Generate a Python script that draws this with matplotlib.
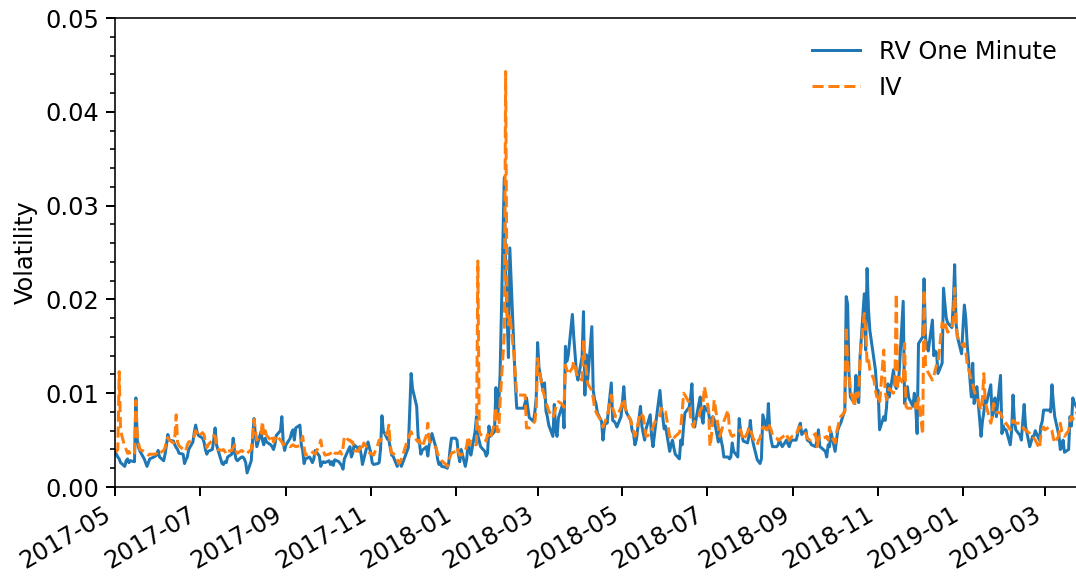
import numpy as np
import pandas as pd
import matplotlib
matplotlib.use('Agg')
import matplotlib.pyplot as plt
import matplotlib.dates as mdates
from matplotlib.ticker import AutoMinorLocator

# one value per weekday
start_date = '2017-05-01'
end_date = '2019-03-25'

# volatility values in units of 1e-3, one block per month
rv_one_minute = [
    # 2017-05
    3.7, 3.5, 3.2, 3.0, 2.6, 2.2, 2.8, 3.0, 2.6, 2.8, 2.7, 9.5, 5.0, 4.2, 3.8, 3.0, 2.6, 2.2, 2.6, 3.0, 3.2, 3.3, 3.4,
    # 2017-06
    3.9, 3.2, 2.8, 3.5, 4.5, 5.6, 5.0, 4.9, 4.5, 4.2, 4.0, 3.6, 3.5, 2.5, 2.9, 3.2, 4.0, 4.8, 5.8, 6.6, 5.9, 5.5,
    # 2017-07
    5.2, 4.8, 4.0, 3.5, 3.8, 4.0, 5.0, 6.3, 4.5, 4.0, 2.5, 2.4, 2.7, 2.6, 3.2, 3.5, 5.2, 3.8, 3.0, 2.8, 3.2,
    # 2017-08
    3.2, 3.0, 2.6, 1.5, 2.8, 5.0, 7.3, 5.5, 4.3, 5.9, 5.0, 4.5, 5.2, 4.8, 4.5, 4.3, 4.0, 4.5, 5.5, 6.0, 7.5, 4.8, 3.9,
    # 2017-09
    4.5, 5.2, 5.8, 6.1, 5.0, 6.3, 6.6, 4.5, 3.9, 2.5, 3.0, 3.2, 2.9, 2.6, 3.0, 3.9, 3.3, 2.2, 2.6, 2.7, 2.6,
    # 2017-10
    2.8, 2.4, 2.7, 2.3, 2.9, 2.7, 2.5, 2.3, 1.9, 3.0, 4.0, 4.3, 3.2, 3.6, 4.5, 4.1, 4.3, 3.5, 2.4, 3.0, 4.8, 4.2,
    # 2017-11
    3.6, 2.6, 2.4, 2.5, 2.6, 4.0, 7.6, 6.0, 5.1, 5.0, 4.2, 3.4, 3.3, 2.2, 2.6, 2.7, 2.2, 2.6, 3.8, 4.2, 8.0, 12.1,
    # 2017-12
    10.5, 8.6, 5.5, 4.7, 3.5, 3.9, 4.3, 3.3, 4.5, 5.0, 5.7, 4.1, 3.0, 2.4, 2.6, 2.2, 2.1, 2.0, 2.5, 4.0, 5.2,
    # 2018-01
    5.2, 5.0, 3.5, 2.7, 4.0, 2.2, 3.0, 4.7, 4.0, 3.4, 5.9, 7.5, 5.5, 4.9, 4.3, 3.8, 3.3, 3.6, 6.5, 5.4, 5.9, 10.6, 7.4,
    # 2018-02
    8.8, 12.0, 33.0, 23.0, 18.7, 13.8, 25.5, 14.5, 10.9, 8.4, 8.4, 8.4, 8.4, 9.0, 9.5, 8.4, 7.4, 7.0, 8.0, 9.5,
    # 2018-03
    15.4, 12.7, 10.2, 11.1, 8.1, 7.5, 6.6, 5.4, 8.8, 6.0, 5.4, 7.4, 8.8, 6.3, 15.0, 13.4, 14.0, 18.4, 16.0, 14.0, 12.1, 11.4,
    # 2018-04
    13.9, 18.7, 9.8, 14.1, 11.4, 17.1, 10.3, 9.3, 8.9, 7.9, 7.0, 5.0, 6.4, 7.1, 6.8, 11.1, 7.1, 7.0, 6.8, 6.4, 7.5,
    # 2018-05
    9.0, 10.7, 8.5, 7.9, 7.1, 6.0, 5.7, 4.5, 5.0, 8.6, 6.5, 5.7, 5.0, 6.2, 7.7, 5.4, 4.3, 5.5, 6.8, 10.3, 8.5, 7.5, 6.2,
    # 2018-06
    6.5, 3.8, 4.5, 5.0, 4.2, 3.5, 3.0, 5.0, 4.5, 6.5, 7.9, 8.5, 9.5, 11.0, 7.0, 6.4, 8.9, 9.6, 7.5, 6.8, 8.6,
    # 2018-07
    7.9, 7.0, 6.8, 7.5, 7.2, 4.8, 6.1, 5.0, 4.3, 3.2, 3.2, 3.0, 3.2, 4.7, 3.8, 3.2, 7.3, 6.0, 5.4, 4.9, 4.7, 5.4,
    # 2018-08
    7.1, 5.5, 4.7, 2.9, 2.7, 2.5, 3.0, 7.7, 6.1, 8.9, 6.1, 5.0, 4.3, 4.3, 4.5, 5.0, 4.6, 4.3, 5.0, 4.6, 4.3, 4.8, 5.0,
    # 2018-09
    5.0, 5.6, 6.4, 6.8, 5.6, 6.1, 5.0, 4.9, 4.8, 4.5, 4.3, 5.0, 6.1, 4.3, 4.2, 3.8, 3.2, 4.5, 4.3, 5.9,
    # 2018-10
    3.8, 5.0, 6.1, 6.5, 6.8, 8.2, 20.3, 19.5, 12.1, 9.6, 8.9, 11.9, 9.6, 9.0, 14.0, 20.6, 14.6, 23.3, 19.0, 16.7, 13.5, 12.5, 10.3,
    # 2018-11
    10.3, 6.1, 7.5, 7.1, 8.5, 11.0, 9.6, 12.5, 11.0, 10.5, 11.0, 12.0, 19.8, 8.9, 10.0, 10.7, 9.5, 8.6, 10.0, 8.6, 5.7, 15.3,
    # 2018-12
    16.0, 22.2, 16.0, 15.0, 14.5, 17.8, 14.0, 14.5, 14.3, 12.1, 13.2, 21.2, 19.5, 18.0, 17.5, 17.0, 19.5, 23.7, 17.5, 16.0, 14.2,
    # 2019-01
    17.0, 19.4, 18.0, 15.3, 9.6, 13.2, 8.9, 10.0, 10.7, 5.4, 7.0, 8.0, 9.5, 9.0, 10.9, 7.5, 8.2, 9.5, 7.5, 11.9, 5.7, 6.5, 6.1,
    # 2019-02
    6.1, 4.5, 6.0, 9.8, 7.0, 6.1, 5.5, 5.0, 7.0, 8.8, 6.5, 4.3, 4.8, 5.4, 5.4, 6.0, 5.0, 6.5, 7.0, 8.2,
    # 2019-03
    8.2, 8.2, 8.0, 10.9, 9.0, 7.5, 5.5, 4.0, 4.2, 5.0, 3.7, 4.0, 7.5, 6.5, 9.5, 9.0, 8.2,
]

iv = [
    # 2017-05
    3.9, 3.8, 4.0, 12.3, 6.0, 4.3, 4.0, 3.6, 3.8, 3.4, 3.6, 9.2, 5.5, 4.6, 4.0, 3.8, 3.6, 3.5, 3.4, 3.5, 3.5, 3.5, 3.6,
    # 2017-06
    3.8, 3.6, 3.9, 4.2, 5.0, 5.3, 5.0, 4.7, 5.2, 7.7, 4.8, 4.4, 4.0, 3.8, 3.9, 4.5, 4.8, 5.0, 5.5, 6.0, 5.8, 5.4,
    # 2017-07
    5.8, 5.6, 4.8, 4.2, 4.5, 5.0, 5.5, 5.4, 4.3, 4.0, 3.9, 4.0, 3.8, 3.5, 3.8, 3.9, 4.2, 4.5, 3.8, 3.6, 3.9,
    # 2017-08
    3.8, 3.6, 3.5, 3.6, 4.0, 5.5, 7.2, 6.0, 5.0, 5.5, 7.0, 5.5, 6.0, 5.5, 5.0, 5.4, 4.8, 5.0, 5.5, 5.0, 4.8, 4.5, 4.6,
    # 2017-09
    4.6, 4.3, 4.4, 4.5, 4.4, 4.3, 4.4, 4.8, 5.4, 4.2, 3.4, 3.6, 3.8, 3.7, 3.6, 3.5, 4.5, 5.0, 4.1, 3.8, 3.4,
    # 2017-10
    3.5, 3.6, 3.4, 3.7, 3.6, 3.6, 3.8, 3.5, 4.2, 5.4, 5.0, 5.0, 4.8, 4.8, 3.9, 3.8, 4.2, 3.8, 4.3, 4.7, 4.0, 3.6,
    # 2017-11
    3.6, 3.5, 3.4, 4.5, 5.0, 4.9, 5.2, 5.3, 5.8, 6.6, 4.4, 3.6, 3.6, 3.0, 2.5, 2.6, 3.0, 3.4, 4.8, 5.0, 5.6, 5.9,
    # 2017-12
    5.5, 5.0, 4.8, 5.0, 4.5, 4.3, 5.5, 6.8, 5.0, 4.7, 4.4, 4.2, 3.6, 3.2, 3.0, 2.8, 2.4, 2.2, 2.6, 3.2, 3.6,
    # 2018-01
    3.8, 4.2, 3.7, 3.4, 3.4, 3.8, 4.4, 5.4, 4.5, 4.9, 4.5, 4.5, 24.1, 6.0, 5.6, 5.2, 4.9, 5.6, 5.2, 5.2, 6.8, 8.5, 5.9,
    # 2018-02
    5.9, 9.1, 16.2, 44.3, 18.7, 17.3, 18.4, 14.1, 12.0, 9.8, 9.8, 9.8, 9.8, 9.8, 6.3, 6.3, 6.3, 6.8, 7.0, 8.4,
    # 2018-03
    13.7, 12.5, 10.2, 9.6, 9.1, 8.6, 8.1, 7.4, 7.8, 8.4, 8.8, 9.1, 8.8, 8.5, 13.0, 12.5, 12.0, 12.7, 13.4, 12.8, 12.1, 11.6,
    # 2018-04
    11.4, 15.5, 13.5, 12.5, 11.0, 10.3, 9.5, 8.4, 8.0, 7.7, 7.0, 6.4, 6.8, 7.1, 7.5, 9.8, 8.4, 8.0, 7.5, 7.5, 8.5,
    # 2018-05
    9.0, 9.4, 8.5, 7.9, 7.1, 6.5, 6.0, 5.4, 6.0, 7.9, 7.7, 7.5, 6.5, 5.4, 5.6, 6.0, 6.4, 6.8, 7.1, 7.6, 8.4, 8.2, 7.9,
    # 2018-06
    8.0, 5.4, 5.2, 5.0, 5.2, 5.4, 5.8, 6.4, 8.0, 10.0, 9.8, 9.0, 7.5, 6.8, 6.4, 7.0, 7.5, 8.2, 8.4, 9.0, 10.7,
    # 2018-07
    8.2, 4.3, 5.4, 7.0, 9.3, 6.4, 5.4, 5.8, 6.4, 7.0, 8.2, 6.1, 5.6, 5.4, 5.5, 5.7, 5.9, 6.1, 5.5, 5.0, 5.8, 6.4,
    # 2018-08
    6.2, 5.7, 5.2, 4.5, 5.0, 5.2, 5.8, 6.4, 6.1, 6.8, 6.4, 6.1, 5.5, 5.2, 5.0, 5.0, 5.2, 5.3, 5.7, 5.2, 5.0, 5.2, 5.4,
    # 2018-09
    5.5, 6.0, 6.4, 6.4, 6.0, 5.7, 5.2, 5.1, 5.0, 5.3, 5.7, 4.3, 5.0, 5.4, 5.2, 5.3, 5.4, 5.0, 6.4, 5.5,
    # 2018-10
    4.7, 5.8, 6.4, 7.1, 7.5, 8.0, 17.1, 13.2, 12.1, 10.3, 8.6, 10.3, 9.6, 9.8, 14.0, 18.5, 16.7, 13.2, 13.6, 12.5, 11.4, 10.3, 9.6,
    # 2018-11
    9.6, 8.9, 14.6, 10.3, 9.3, 10.0, 10.5, 10.0, 11.0, 20.6, 10.7, 11.7, 11.0, 15.3, 8.6, 8.4, 8.4, 8.4, 8.2, 8.9, 8.2, 9.5,
    # 2018-12
    5.6, 21.0, 13.1, 12.5, 12.2, 11.4, 11.8, 12.5, 13.0, 13.2, 17.5, 17.0, 17.5, 17.0, 16.5, 17.0, 18.0, 21.2, 17.5, 16.0, 15.3,
    # 2019-01
    15.0, 15.3, 14.5, 13.2, 11.4, 11.0, 10.3, 9.8, 9.5, 8.2, 9.5, 12.1, 9.0, 8.5, 6.8, 7.5, 8.9, 8.5, 8.0, 7.9, 7.5, 7.0, 6.8,
    # 2019-02
    6.8, 6.1, 6.5, 7.1, 7.0, 6.8, 6.8, 6.5, 6.4, 6.1, 6.1, 5.7, 5.4, 5.4, 5.2, 5.0, 4.1, 5.5, 6.1, 6.4,
    # 2019-03
    6.1, 6.4, 6.2, 6.0, 5.2, 4.7, 5.5, 6.8, 6.0, 5.8, 5.4, 6.0, 7.0, 7.5, 7.2, 7.8, 8.0,
]

dates = pd.bdate_range(start_date, end_date)
assert len(dates) == len(rv_one_minute) == len(iv)

rv = np.array(rv_one_minute) / 1000.0
iv_vals = np.array(iv) / 1000.0

plt.rcParams['font.family'] = 'DejaVu Sans'
plt.rcParams['font.size'] = 12

fig = plt.figure(figsize=(1076 / 144, 576 / 144), dpi=144)
ax = fig.add_axes([0.1069, 0.1545, 0.8953, 0.8142])

ax.plot(dates, rv, color='#1f77b4', lw=1.5, label='RV One Minute')
ax.plot(dates, iv_vals, color='#ff7f0e', lw=1.5, ls='--', label='IV')

ax.set_xlim(pd.Timestamp(start_date), pd.Timestamp(end_date))
ax.set_ylim(0, 0.05)
ax.set_ylabel('Volatility')

ax.xaxis.set_major_locator(mdates.MonthLocator(bymonth=[1, 3, 5, 7, 9, 11]))
ax.xaxis.set_major_formatter(mdates.DateFormatter('%Y-%m'))
ax.yaxis.set_minor_locator(AutoMinorLocator(5))
ax.tick_params(which='major', length=4.3, width=1)
ax.tick_params(which='minor', length=2.3, width=0.8)
for lbl in ax.get_xticklabels():
    lbl.set_rotation(30)
    lbl.set_ha('right')

ax.legend(loc='upper right', frameon=False)

fig.savefig('out.png', dpi=144)
